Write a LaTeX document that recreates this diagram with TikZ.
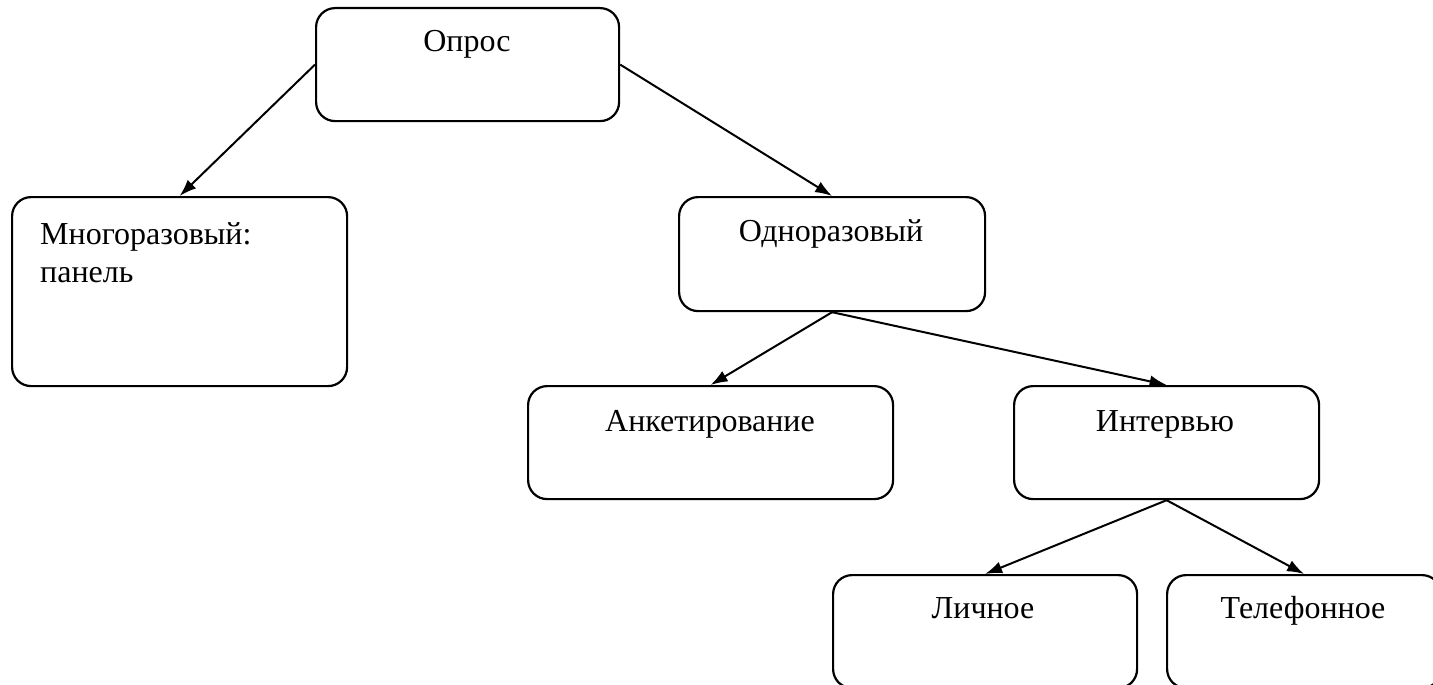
\documentclass[tikz,border=0pt]{standalone}
\usepackage{fontspec}
\setmainfont{Liberation Serif}
\usetikzlibrary{arrows.meta}
\begin{document}
\begin{tikzpicture}[x=1pt,y=-1pt,
  box/.style={draw=black, line width=2.2pt, rounded corners=19pt, inner sep=0pt, anchor=north west},
  txt/.style={anchor=base, inner sep=0pt, font=\fontsize{32}{38}\selectfont},
  arr/.style={draw=black, line width=2pt, -{Latex[length=17pt,width=12pt]}}]
  \useasboundingbox (0,0) rectangle (1433,685);
  \clip (0,0) rectangle (1433,685);

  % boxes
  \node[box, minimum width=303pt, minimum height=113pt] (opros) at (315,7) {};
  \node[box, minimum width=335pt, minimum height=189pt] (mnog) at (11,196) {};
  \node[box, minimum width=306pt, minimum height=114pt] (odn) at (678,196) {};
  \node[box, minimum width=365pt, minimum height=113pt] (ank) at (527,385) {};
  \node[box, minimum width=305pt, minimum height=113pt] (interv) at (1013,385) {};
  \node[box, minimum width=304pt, minimum height=113pt] (lich) at (832,574) {};
  \node[box, minimum width=274pt, minimum height=113pt] (tel) at (1166,574) {};

  % labels
  \node[txt] (opros-t) at (467,52) {Опрос};
  \node[txt, anchor=base west] (mnog-t1) at (40,244) {Многоразовый:};
  \node[txt, anchor=base west] (mnog-t2) at (40,282) {панель};
  \node[txt] (odn-t) at (831,241) {Одноразовый};
  \node[txt] (ank-t) at (710,431) {Анкетирование};
  \node[txt] (interv-t) at (1165,431) {Интервью};
  \node[txt] (lich-t) at (983,618) {Личное};
  \node[txt] (tel-t) at (1303,618) {Телефонное};

  % connectors
  \draw[arr] (opros.west) -- (mnog.north);
  \draw[arr] (opros.east) -- (odn.north);
  \draw[arr] (odn.south) -- (ank.north);
  \draw[arr] (odn.south) -- (interv.north);
  \draw[arr] (interv.south) -- (lich.north);
  \draw[arr] (interv.south) -- (tel.north);
\end{tikzpicture}
\end{document}
